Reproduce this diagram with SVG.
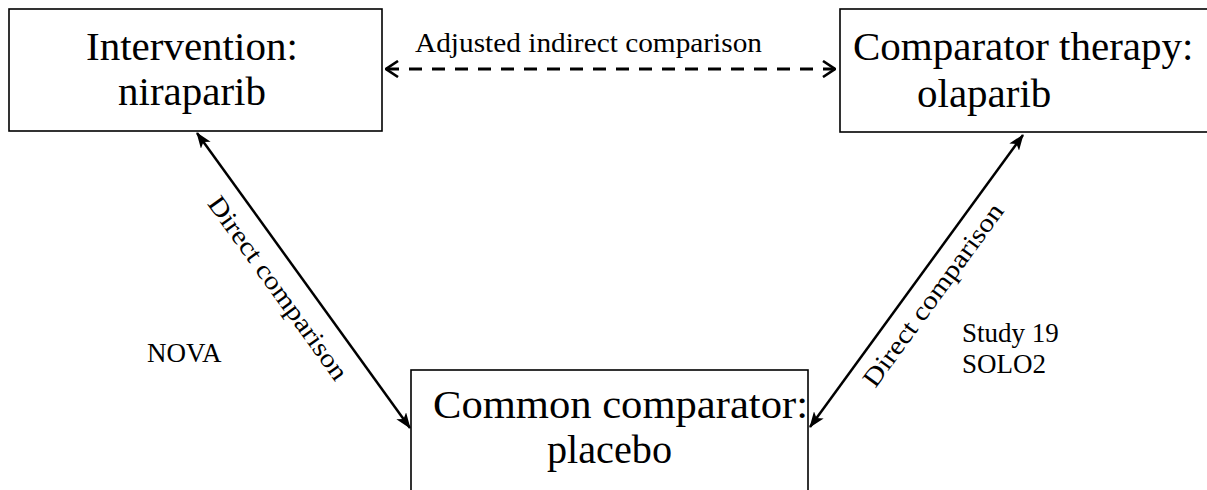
<svg xmlns="http://www.w3.org/2000/svg" width="1207" height="490" viewBox="0 0 1207 490">
<style>
.box{fill:#fff;stroke:#000;stroke-width:1.6}
.big{font-family:"Liberation Serif","Times New Roman",serif;font-size:41px;fill:#000}
.big2{font-family:"Liberation Serif","Times New Roman",serif;font-size:40px;fill:#000}
.sm{font-family:"Liberation Serif","Times New Roman",serif;font-size:27px;fill:#000}
.lab{font-family:"Liberation Serif","Times New Roman",serif;font-size:26px;fill:#000}
.solid{stroke:#000;stroke-width:2.5;fill:none}
.dash{stroke:#000;stroke-width:3;fill:none;stroke-dasharray:13 10}
</style>
<defs>
<marker id="fill" viewBox="0 0 16 12" refX="15" refY="6" markerWidth="16" markerHeight="12" markerUnits="userSpaceOnUse" orient="auto-start-reverse">
<path d="M0,0 L16,6 L0,12 L4,6 Z" fill="#000"/>
</marker>
<marker id="open" viewBox="0 0 14 18" refX="13" refY="9" markerWidth="14" markerHeight="18" markerUnits="userSpaceOnUse" orient="auto-start-reverse">
<path d="M1,1 L13,9 L1,17" fill="none" stroke="#000" stroke-width="2.6"/>
</marker>
</defs>
<g id="connectors">
<line class="dash" x1="386" y1="69" x2="835" y2="69" marker-start="url(#open)" marker-end="url(#open)"/>
<line class="solid" x1="197" y1="133" x2="410" y2="428" marker-start="url(#fill)" marker-end="url(#fill)"/>
<line class="solid" x1="810" y1="427" x2="1023" y2="135" marker-start="url(#fill)" marker-end="url(#fill)"/>
<text class="sm" x="415" y="52" textLength="347" lengthAdjust="spacingAndGlyphs">Adjusted indirect  comparison</text>
<text class="lab" transform="translate(271,293) rotate(54.2)" text-anchor="middle" textLength="220" lengthAdjust="spacingAndGlyphs">Direct comparison</text>
<text class="lab" transform="translate(940,300) rotate(-53.9)" text-anchor="middle" textLength="220" lengthAdjust="spacingAndGlyphs">Direct comparison</text>
</g>
<g id="node-intervention">
<rect class="box" x="9" y="9" width="373" height="122"/>
<text class="big"><tspan x="86" y="60">Intervention:</tspan><tspan x="118" y="105">niraparib</tspan></text>
</g>
<g id="node-comparator">
<rect class="box" x="840" y="9" width="380" height="123"/>
<text class="big"><tspan x="853" y="60">Comparator therapy:</tspan><tspan x="917" y="107">olaparib</tspan></text>
</g>
<g id="node-common">
<rect class="box" x="411" y="370" width="397" height="140"/>
<text class="big2"><tspan x="433" y="418" textLength="375" lengthAdjust="spacingAndGlyphs">Common comparator:</tspan><tspan x="547" y="463" textLength="125" lengthAdjust="spacingAndGlyphs">placebo</tspan></text>
</g>
<g id="notes">
<text class="sm"><tspan x="147" y="362">NOVA</tspan></text>
<text class="sm"><tspan x="962" y="342">Study 19</tspan><tspan x="962" y="373">SOLO2</tspan></text>
</g>
</svg>
